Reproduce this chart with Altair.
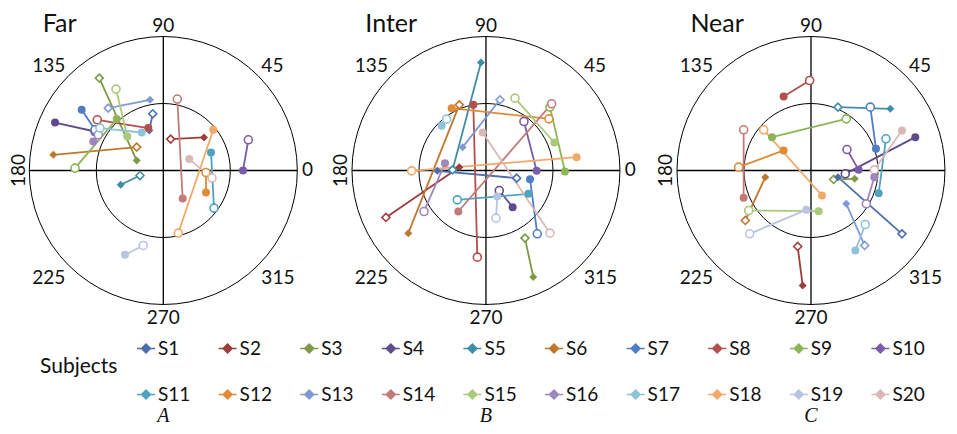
import altair as alt
import pandas as pd

SUBJECTS = ["S1", "S2", "S3", "S4", "S5", "S6", "S7", "S8", "S9", "S10",
            "S11", "S12", "S13", "S14", "S15", "S16", "S17", "S18", "S19", "S20"]
MARKERS = ["diamond", "diamond", "diamond", "circle", "diamond", "diamond",
           "circle", "circle", "circle", "circle", "circle", "circle",
           "diamond", "circle", "circle", "circle", "circle", "circle", "circle", "circle"]
COLORS = ["#4A6EAE", "#9E3D3A", "#7E9A47", "#5F4B8B", "#3F8DA8", "#C0782E",
          "#4F7DC6", "#B3504D", "#8EB555", "#7B5CA7", "#4FA3C1", "#E08B35",
          "#8099D5", "#C27B79", "#ABC97B", "#9D86BE", "#8DC2D8", "#F2A869",
          "#B9C4E3", "#D9B8B6"]

CONDITIONS = ["Far", "Inter", "Near"]
LETTERS = ["A", "B", "C"]
ANGLES = [0, 45, 90, 135, 180, 225, 270, 315]
ANGLE_TEXT = ["0", "45", "90", "135", "180", "225", "270", "315"]

# Far
FAR_FILLED_X = [-0.209, 0.607, -0.397, -1.616, -0.636, -1.642, -1.218, -0.224, -0.696, 1.190,
                0.712, 0.637, -0.199, 0.289, -0.537, -1.045, -0.322, 0.746, -0.572, 0.388]
FAR_FILLED_Y = [0.597, 0.493, 0.149, 0.716, -0.213, 0.234, 0.906, 0.633, 0.767, 0.000,
                0.269, -0.328, 1.055, -0.418, 0.507, 0.433, 0.567, 0.607, -1.258, 0.170]
FAR_HOLLOW_X = [-0.158, 0.110, -0.955, -1.019, -0.348, -0.397, -1.019, -0.985, -1.318, 1.269,
                0.757, 0.637, -0.821, 0.209, -0.706, -0.970, -0.945, 0.224, -0.299, 0.727]
FAR_HOLLOW_Y = [0.846, 0.469, 1.379, 0.582, -0.075, 0.349, 0.607, 0.757, 0.036, 0.458,
                -0.561, -0.030, 0.931, 1.066, 1.215, 0.533, 0.633, -0.934, -1.119, -0.113]

# Inter
INTER_FILLED_X = [-0.726, -0.398, 0.706, 0.398, -0.075, -1.159, 0.657, -0.189, 1.179, 0.756,
                  0.632, -0.512, -0.348, -0.413, 1.020, -0.612, -0.662, 1.353, 0.169, -0.050]
INTER_FILLED_Y = [-0.005, 0.050, -1.591, -0.547, 1.612, -0.935, -0.129, 0.980, -0.015, -0.005,
                  -0.348, 0.930, 0.348, -0.612, 0.418, 0.109, 0.667, 0.199, -0.388, 0.567]
INTER_HOLLOW_X = [0.458, -1.493, 0.582, 0.199, -0.498, -0.398, 0.766, -0.129, 0.955, 0.567,
                  -0.428, 0.940, 0.209, 0.980, 0.433, -0.925, -0.587, -1.109, 0.149, 0.955]
INTER_HOLLOW_Y = [-0.114, -0.701, -1.009, -0.299, 0.010, 0.980, -0.945, -1.293, 0.946, 0.731,
                  -0.438, 0.771, 1.055, 0.995, 1.080, -0.612, 0.766, -0.005, -0.711, -0.935]

# Near
NEAR_FILLED_X = [0.403, -0.124, 0.652, 1.557, 1.184, -0.682, 0.970, -0.408, -0.582, 0.711,
                 1.010, -0.408, 0.527, -1.005, 0.114, 0.945, 0.662, 0.164, -0.070, 1.358]
NEAR_FILLED_Y = [-0.100, -1.716, -0.124, 0.498, 0.920, -0.100, 0.323, 1.104, 0.498, 0.010,
                 -0.338, 0.299, -0.498, -0.408, -0.607, -0.100, -1.194, -0.373, -0.587, 0.597]
NEAR_HOLLOW_X = [1.358, -0.199, 0.338, 0.512, 0.403, -0.980, 0.886, -0.020, 0.527, 0.537,
                 1.119, -1.080, 0.801, -1.005, -0.930, 0.826, 0.811, -0.706, -0.915, 0.945]
NEAR_HOLLOW_Y = [-0.945, -1.134, -0.134, -0.050, 0.945, -0.746, 0.945, 1.343, 0.771, 0.313,
                 0.473, 0.050, -1.119, 0.607, -0.597, -0.498, -0.806, 0.607, -0.945, 0.010]

# ---- layout (plot units: inner ring radius = 1) ----
PANEL_X = [0.0, 4.816, 9.667]
R_IN, R_OUT, R_LAB = 1.0, 2.0, 2.07
XDOM = [-2.318, 11.727]
YDOM = [-3.813, 2.425]
W, H = 941, 418
FONT = "Lato"

rows = []
series = [
    (FAR_FILLED_X, FAR_FILLED_Y, FAR_HOLLOW_X, FAR_HOLLOW_Y),
    (INTER_FILLED_X, INTER_FILLED_Y, INTER_HOLLOW_X, INTER_HOLLOW_Y),
    (NEAR_FILLED_X, NEAR_FILLED_Y, NEAR_HOLLOW_X, NEAR_HOLLOW_Y),
]
for cond, off, (fx, fy, hx, hy) in zip(CONDITIONS, PANEL_X, series):
    for i, s in enumerate(SUBJECTS):
        rows.append(dict(cond=cond, off=off, subject=s, marker=MARKERS[i],
                         fx=fx[i], fy=fy[i], hx=hx[i], hy=hy[i]))
pts = pd.DataFrame(rows)

panels = pd.DataFrame({"cond": CONDITIONS, "off": PANEL_X, "letter": LETTERS})
rings = pd.DataFrame([{"off": o, "r": r} for o in PANEL_X for r in (R_IN, R_OUT)])
cross = pd.DataFrame([{"off": o, "dir": d} for o in PANEL_X for d in ("h", "v")])
angs = pd.DataFrame([{"off": o, "ang": a, "lab": t} for o in PANEL_X for a, t in zip(ANGLES, ANGLE_TEXT)])


def X(f):
    return alt.X(f"{f}:Q", scale=alt.Scale(domain=XDOM, nice=False, zero=False), axis=None)


def Y(f):
    return alt.Y(f"{f}:Q", scale=alt.Scale(domain=YDOM, nice=False, zero=False), axis=None)


COLOR_SCALE = alt.Scale(domain=SUBJECTS, range=COLORS)
# same mapping, listed in reverse order (used for the hollow markers' outline)
STROKE_SCALE = alt.Scale(domain=SUBJECTS[::-1], range=COLORS[::-1])

SHAPE = alt.Shape("marker:N", scale=alt.Scale(domain=["diamond", "circle"], range=["diamond", "circle"]), legend=None)
LEG_PATH = "M-1,0L1,0M0,-0.5L0.5,0L0,0.5L-0.5,0Z"
LEG = alt.Legend(title=None, orient="none", legendX=128, legendY=330.5, columns=10,
                 direction="horizontal", gridAlign="all", columnPadding=24.6, rowPadding=26,
                 symbolType=LEG_PATH, symbolSize=324, symbolStrokeWidth=1.5,
                 labelFont=FONT, labelFontSize=19, labelOffset=2, labelColor="#111111",
                 padding=0, labelLimit=100)

px_per_unit = W / (XDOM[1] - XDOM[0])
ring_layer = alt.Chart(rings).mark_point(shape="circle", filled=False, color="black",
                                         strokeWidth=1, opacity=1).encode(
    x=X("off"), y=alt.value(H * YDOM[1] / (YDOM[1] - YDOM[0])),
    size=alt.Size("r:Q", scale=alt.Scale(type="pow", exponent=2, domain=[0, R_OUT],
                                         range=[0, (2 * R_OUT * px_per_unit) ** 2]), legend=None),
)

cross_layer = alt.Chart(cross).transform_calculate(
    X1=f"datum.dir == 'h' ? datum.off - {R_OUT} : datum.off",
    X2=f"datum.dir == 'h' ? datum.off + {R_OUT} : datum.off",
    Y1=f"datum.dir == 'h' ? 0 : -{R_OUT}",
    Y2=f"datum.dir == 'h' ? 0 : {R_OUT}",
).mark_rule(color="black", strokeWidth=1.3).encode(x=X("X1"), y=Y("Y1"), x2="X2:Q", y2="Y2:Q")

base = alt.Chart(pts).transform_calculate(FX="datum.fx + datum.off", HX="datum.hx + datum.off")

lines = base.mark_rule(strokeWidth=1.8).encode(
    x=X("FX"), y=Y("fy"), x2="HX:Q", y2="hy:Q",
    color=alt.Color("subject:N", scale=COLOR_SCALE, legend=LEG),
)

hollow = base.mark_point(filled=False, fill="white", fillOpacity=1, opacity=1, size=64, strokeWidth=1.6).encode(
    x=X("HX"), y=Y("hy"), shape=SHAPE,
    stroke=alt.Stroke("subject:N", scale=STROKE_SCALE, legend=None),
)

filled = base.mark_point(filled=True, opacity=1, size=64).encode(
    x=X("FX"), y=Y("fy"), shape=SHAPE,
    color=alt.Color("subject:N", scale=COLOR_SCALE, legend=LEG),
)

ANCHOR = {0: ("left", "middle", 0), 45: ("left", "alphabetic", 0), 90: ("center", "alphabetic", 0),
          135: ("right", "alphabetic", 0), 180: ("center", "alphabetic", 270),
          225: ("right", "top", 0), 270: ("center", "top", 0), 315: ("left", "top", 0)}
label_layers = []
for a in ANGLES:
    al, bl, rot = ANCHOR[a]
    label_layers.append(
        alt.Chart(angs).transform_filter(alt.datum.ang == a).transform_calculate(
            LX=f"datum.off + {R_LAB} * cos(datum.ang * PI / 180)",
            LY=f"{R_LAB} * sin(datum.ang * PI / 180)",
        ).mark_text(align=al, baseline=bl, angle=rot, font=FONT, fontSize=19, color="#111111").encode(
            x=X("LX"), y=Y("LY"), text="lab:N")
    )

titles = alt.Chart(panels).transform_calculate(TX="datum.off - 1.8", TY="2.06").mark_text(
    align="left", baseline="alphabetic", font=FONT, fontSize=25, color="#111111"
).encode(x=X("TX"), y=Y("TY"), text="cond:N")

letters = alt.Chart(panels).transform_calculate(TX="datum.off", TY="-3.754").mark_text(
    align="center", baseline="alphabetic", font="Liberation Serif", fontStyle="italic",
    fontSize=20, color="#111111"
).encode(x=X("TX"), y=Y("TY"), text="letter:N")

subj = alt.Chart(pd.DataFrame({"t": ["Subjects"]})).transform_calculate(TX="-1.84", TY="-3.02").mark_text(
    align="left", baseline="alphabetic", font=FONT, fontSize=21, color="#111111"
).encode(x=X("TX"), y=Y("TY"), text="t:N")

chart = alt.layer(ring_layer, cross_layer, lines, hollow, filled, *label_layers, titles, letters, subj).properties(
    width=W, height=H, padding=0, autosize=alt.AutoSizeParams(type="none")
).configure_view(stroke=None)

chart.save("out.html", embed_options={"renderer": "svg", "actions": False})
